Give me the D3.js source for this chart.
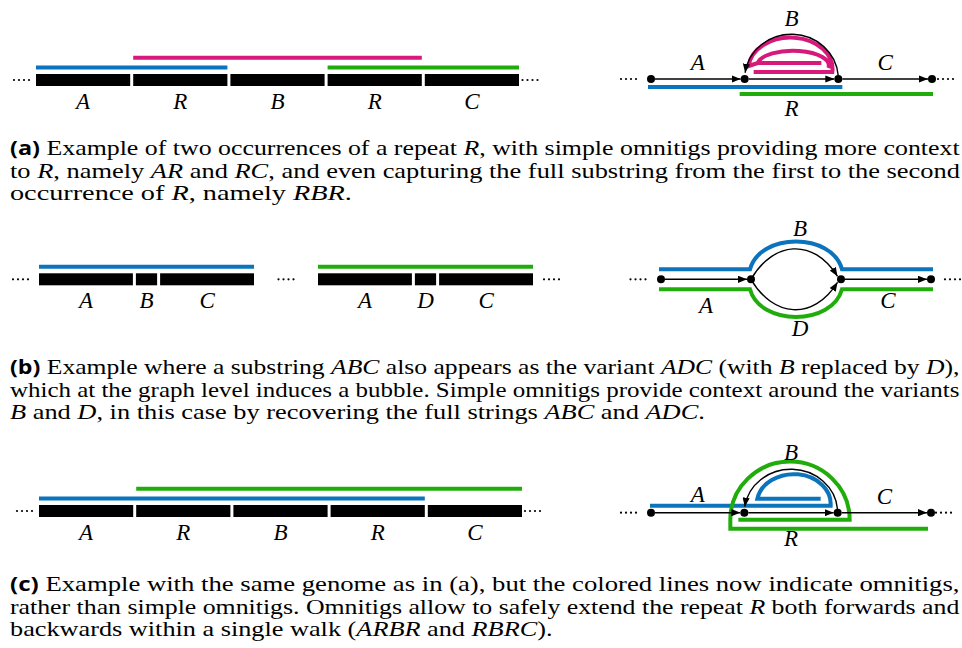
<!DOCTYPE html>
<html>
<head>
<meta charset="utf-8">
<script src="https://cdn.jsdelivr.net/npm/d3@7"></script>
<style>
  html, body { margin: 0; padding: 0; background: #fff; overflow: hidden; }
  text { white-space: pre; }
</style>
</head>
<body>
<svg id="fig" width="962" height="648"></svg>
<script>
// ---- data ----
// genome strings (segment labels + relative lengths)
const genomeA = ["A", "R", "B", "R", "C"];
const genomeAUnits = [1, 1, 1, 1, 1];
const genomeB1 = ["A", "B", "C"];
const genomeB2 = ["A", "D", "C"];
const genomeBUnits = [4, 1, 4];
const genomeC = ["A", "R", "B", "R", "C"];
const genomeCUnits = [1, 1, 1, 1, 1];

// walks over the genome: segment index range + stacking row
const walksA = [
  { name: "AR", from: 0, to: 2, row: 1 },
  { name: "RBR", from: 1, to: 4, row: 2 },
  { name: "RC", from: 3, to: 5, row: 1 }
];
const walksB1 = [{ name: "ABC", from: 0, to: 3, row: 1 }];
const walksB2 = [{ name: "ADC", from: 0, to: 3, row: 1 }];
const walksC = [
  { name: "ARBR", from: 0, to: 4, row: 1 },
  { name: "RBRC", from: 1, to: 5, row: 2 }
];

// graph nodes and edges
const graphNodes = [0, 1, 2, 3];
const edgesA = [
  { label: "A", s: 0, t: 1 }, { label: "R", s: 1, t: 2 },
  { label: "C", s: 2, t: 3 }, { label: "B", s: 2, t: 1, kind: "loop" }
];
const edgesB = [
  { label: "A", s: 0, t: 1 }, { label: "B", s: 1, t: 2, kind: "up" },
  { label: "D", s: 1, t: 2, kind: "down" }, { label: "C", s: 2, t: 3 }
];
const edgesC = edgesA;

// captions: [text, style]  (b = bold sans, i = italic)
const captionA = [
  [["(a)", "b"], [" Example of two occurrences of a repeat ", ""], ["R", "i"], [", with simple omnitigs providing more context", ""]],
  [["to ", ""], ["R", "i"], [", namely ", ""], ["AR", "i"], [" and ", ""], ["RC", "i"], [", and even capturing the full substring from the first to the second", ""]],
  [["occurrence of ", ""], ["R", "i"], [", namely ", ""], ["RBR", "i"], [".", ""]]
];
const captionB = [
  [["(b)", "b"], [" Example where a substring ", ""], ["ABC", "i"], [" also appears as the variant ", ""], ["ADC", "i"], [" (with ", ""], ["B", "i"], [" replaced by ", ""], ["D", "i"], ["),", ""]],
  [["which at the graph level induces a bubble. Simple omnitigs provide context around the variants", ""]],
  [["B", "i"], [" and ", ""], ["D", "i"], [", in this case by recovering the full strings ", ""], ["ABC", "i"], [" and ", ""], ["ADC", "i"], [".", ""]]
];
const captionC = [
  [["(c)", "b"], [" Example with the same genome as in (a), but the colored lines now indicate omnitigs,", ""]],
  [["rather than simple omnitigs. Omnitigs allow to safely extend the repeat ", ""], ["R", "i"], [" both forwards and", ""]],
  [["backwards within a single walk (", ""], ["ARBR", "i"], [" and ", ""], ["RBRC", "i"], [").", ""]]
];

// ---- styles ----
const BLUE = "#0b74bd", PINK = "#d6197a", GREEN = "#20ad0c";
const walkColor = { AR: BLUE, RBR: PINK, RC: GREEN, ABC: BLUE, ADC: GREEN, ARBR: BLUE, RBRC: GREEN };

// pick the first installed serif (falls back to generic serif)
function pickFont(cands, generic) {
  const ctx = document.createElement("canvas").getContext("2d");
  const probe = "Example of omnitigs RBR";
  ctx.font = "40px monospace";
  const base = ctx.measureText(probe).width;
  for (const c of cands) {
    ctx.font = `40px '${c}', monospace`;
    if (Math.abs(ctx.measureText(probe).width - base) > 0.5) return `'${c}', ${generic}`;
  }
  return generic;
}
const SERIF = pickFont(["Liberation Serif", "Noto Serif", "DejaVu Serif"], "serif");
const SANS = pickFont(["Open Sans", "Noto Sans", "DejaVu Sans"], "sans-serif");

const LABEL_SIZE = 23;
const GAP = 3, BAR_H = 12;
const rowOff = { 1: 6.5, 2: 16.3 };
const WALK_W = 4;

const svg = d3.select("#fig");

svg.append("defs").append("marker")
  .attr("id", "arr")
  .attr("viewBox", "0 0 10 8")
  .attr("refX", 10).attr("refY", 4)
  .attr("markerWidth", 9).attr("markerHeight", 7.2)
  .attr("markerUnits", "userSpaceOnUse")
  .attr("orient", "auto")
  .append("path").attr("d", "M0,0 L10,4 L0,8 Z").attr("fill", "#000");

function label(g, txt, x, y) {
  g.append("text").attr("x", x).attr("y", y)
    .attr("text-anchor", "middle")
    .attr("font-family", SERIF).attr("font-style", "italic")
    .attr("font-size", LABEL_SIZE)
    .text(txt);
}

// four small dots; dir = -1 goes leftwards from x0
function dots(g, x0, y, dir) {
  g.append("g").selectAll("circle").data([0, 1, 2, 3]).join("circle")
    .attr("cx", d => x0 + dir * d * 5)
    .attr("cy", y).attr("r", 1.1).attr("fill", "#000");
}

function drawGenome(labels, units, walks, range, yBar, pad) {
  const g = svg.append("g");
  const total = d3.sum(units);
  const x = d3.scaleLinear().domain([0, total]).range(range);
  const cum = [0, ...d3.cumsum(units)];

  g.selectAll("line.walk").data(walks).join("line")
    .attr("x1", d => x(cum[d.from]))
    .attr("x2", d => x(cum[d.to]) - GAP)
    .attr("y1", d => yBar - rowOff[d.row])
    .attr("y2", d => yBar - rowOff[d.row])
    .attr("stroke", d => walkColor[d.name])
    .attr("stroke-width", WALK_W);

  g.selectAll("rect").data(labels).join("rect")
    .attr("x", (d, i) => x(cum[i]))
    .attr("y", yBar)
    .attr("width", (d, i) => x(cum[i + 1]) - x(cum[i]) - GAP)
    .attr("height", BAR_H)
    .attr("fill", "#000");

  labels.forEach((d, i) => label(g, d, (x(cum[i]) + x(cum[i + 1]) - GAP) / 2, yBar + BAR_H + 23));

  if (pad[0] != null) dots(g, x(0) - pad[0], yBar + BAR_H / 2, -1);
  if (pad[1] != null) dots(g, x(total) - GAP + pad[1], yBar + BAR_H / 2, 1);
  return x;
}

// ellipse arc (above the node line) from node b back to node a
function loopPath(xa, xb, y0, ry) {
  const cx = (xa + xb) / 2, rx = (xb - xa) / 2;
  const t0 = 0.08, t1 = Math.PI - 0.14;
  const p0 = [cx + rx * Math.cos(t0), y0 - ry * Math.sin(t0)];
  const p1 = [cx + rx * Math.cos(t1), y0 - ry * Math.sin(t1)];
  return `M${p0[0]},${p0[1]} A${rx},${ry} 0 0 0 ${p1[0]},${p1[1]}`;
}

function drawGraph(edges, range, y0, opts) {
  const g = svg.append("g");
  const n = d3.scaleLinear().domain([0, 3]).range(range);

  // coloured walks (behind)
  opts.walks.forEach(w => {
    g.append("path").attr("d", w.d(n, y0))
      .attr("fill", "none").attr("stroke", walkColor[w.name])
      .attr("stroke-width", WALK_W).attr("stroke-linejoin", "miter");
  });

  edges.forEach(e => {
    let d;
    if (!e.kind) d = `M${n(e.s) + 4},${y0} L${n(e.t) - 4},${y0}`;
    else if (e.kind === "loop") d = loopPath(n(e.t), n(e.s), y0, opts.loopRy);
    else {
      const s = e.kind === "up" ? -1 : 1;
      const a = n(e.s), b = n(e.t);
      d = `M${a},${y0} C${a + 22},${y0 + s * 38} ${b - 28},${y0 + s * 42} ${b - 3.5},${y0 + s * 3}`;
    }
    g.append("path").attr("d", d).attr("fill", "none")
      .attr("stroke", "#000").attr("stroke-width", 1.4)
      .attr("marker-end", "url(#arr)");
  });

  g.selectAll("circle.node").data(graphNodes).join("circle")
    .attr("cx", d => n(d)).attr("cy", y0).attr("r", 4).attr("fill", "#000");

  dots(g, n(0) - opts.pad[0], y0, -1);
  dots(g, n(3) + opts.pad[1], y0, 1);

  edges.forEach(e => {
    const [dx, dy] = opts.labelOff[e.label];
    label(g, e.label, (n(e.s) + n(e.t)) / 2 + dx, y0 + dy);
  });
}

// ---- panel (a) ----
drawGenome(genomeA, genomeAUnits, walksA, [36, 522], 74, [7, 3.5]);
drawGraph(edgesA, [651, 932], 79, {
  loopRy: 44.7,
  pad: [15, 6],
  labelOff: { A: [0, -9], R: [0, 37], C: [0, -9], B: [0, -53] },
  walks: [
    { name: "AR", d: (n, y) => `M${n(0) - 3},${y + 8} H${n(2) + 4}` },
    { name: "RC", d: (n, y) => `M${n(1) - 5},${y + 15} H${n(3) + 1}` },
    { name: "RBR", d: (n, y) =>
        `M${n(1) + 9},${y - 7} H${n(2) - 6} A41.5,31 0 0 0 ${n(1) + 4},${y - 13} L${n(1) + 13},${y - 16} H${n(2) - 17}` +
        ` M${n(1) + 13},${y - 16} A34,14 0 0 1 ${n(2) - 10},${y - 11}` }
  ]
});

// ---- panel (b) ----
drawGenome(genomeB1, genomeBUnits, walksB1, [39, 257], 273.3, [11, null]);
drawGenome(genomeB2, genomeBUnits, walksB2, [318, 536], 273.3, [null, 11]);
dots(svg, (254 + 318) / 2 - 7.5, 279.3, 1);
drawGraph(edgesB, [661, 931], 279.3, {
  pad: [15.5, 14],
  labelOff: { A: [0, 34], B: [4, -43], D: [4, 57], C: [2, 29] },
  walks: [
    { name: "ABC", d: (n, y) =>
        `M${n(0) - 2},${y - 10} H${n(1) - 1} C${n(1) + 9},${y - 47} ${n(2) - 9},${y - 47} ${n(2) + 1},${y - 10} H${n(3) + 2}` },
    { name: "ADC", d: (n, y) =>
        `M${n(0) - 2},${y + 10} H${n(1) - 1} C${n(1) + 9},${y + 47} ${n(2) - 9},${y + 47} ${n(2) + 1},${y + 10} H${n(3) + 2}` }
  ]
});

// ---- panel (c) ----
drawGenome(genomeC, genomeCUnits, walksC, [39, 525], 505, [7, 3]);
drawGraph(edgesC, [651, 931], 512.7, {
  loopRy: 43.4,
  pad: [15, 5],
  labelOff: { A: [0, -11], R: [0, 33], C: [0, -9], B: [0, -53] },
  walks: [
    { name: "ARBR", d: (n, y) =>
        `M${n(0) - 1},${y - 7} H${n(2) - 7} A37,30 0 0 0 ${n(1) + 13},${y - 14} H${n(2) - 17}` },
    { name: "RBRC", d: (n, y) =>
        `M${n(1) - 6},${y + 7} H${n(2) + 12} A59.5,58 0 0 0 ${n(1) - 14},${y + 7} V${y + 16} H${n(3) - 3}` }
  ]
});

// ---- captions ----
function drawCaption(lines, yBase, ends) {
  lines.forEach((segs, i) => {
    const t = svg.append("text")
      .attr("x", 0).attr("y", 0)
      .attr("font-family", SERIF).attr("font-size", 21).attr("fill", "#000");
    segs.forEach(([s, st]) => {
      const ts = t.append("tspan").text(s);
      if (st === "i") ts.attr("font-style", "italic");
      if (st === "b") ts.attr("font-family", SANS)
        .attr("font-weight", "bold").attr("font-size", 19);
    });
    const w = t.node().getComputedTextLength();
    const sx = (ends[i] - 10) / w;
    t.attr("transform", `translate(10,${yBase + i * 22.7}) scale(${sx},1)`);
  });
}

drawCaption(captionA, 155, [960, 960, 352]);
drawCaption(captionB, 374, [960, 960, 705]);
drawCaption(captionC, 591, [960, 960, 553]);
</script>
</body>
</html>
